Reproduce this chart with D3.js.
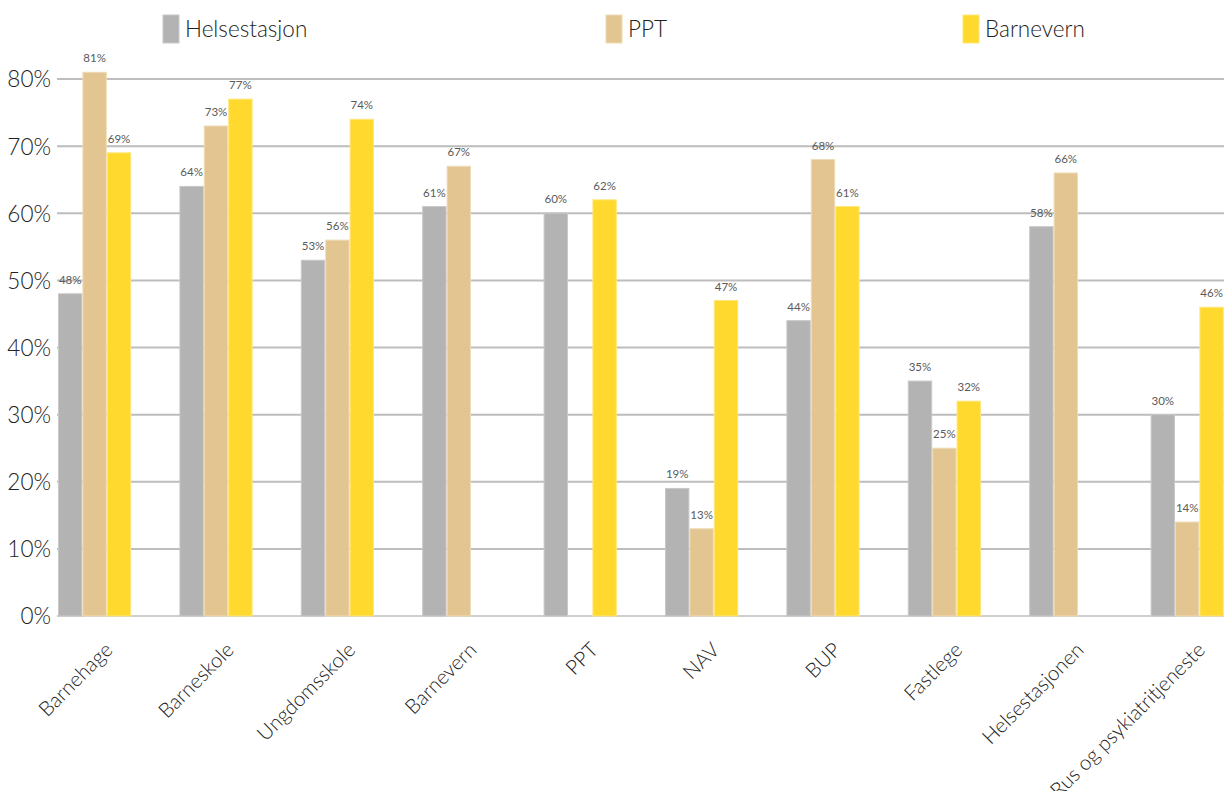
<!DOCTYPE html>
<html><head><meta charset="utf-8">
<script src="https://cdn.jsdelivr.net/npm/d3@7"></script>
<style>body{margin:0;background:#fff;} text{font-family:Lato,"Open Sans",sans-serif;}</style>
</head><body>
<svg id="c" width="1224" height="791"></svg>
<script>
const categories = ["Barnehage","Barneskole","Ungdomsskole","Barnevern","PPT","NAV","BUP","Fastlege","Helsestasjonen","Rus og psykiatritjeneste"];
const seriesNames = ["Helsestasjon","PPT","Barnevern"];
const helsestasjon = [0.48,0.64,0.53,0.61,0.60,0.19,0.44,0.35,0.58,0.30];
const ppt = [0.81,0.73,0.56,0.67,null,0.13,0.68,0.25,0.66,0.14];
const barnevern = [0.69,0.77,0.74,null,0.62,0.47,0.61,0.32,null,0.46];
const yTicks = [0,0.1,0.2,0.3,0.4,0.5,0.6,0.7,0.8];
const colors = ["#b3b3b3","#e3c592","#ffd92e"];
const strokes = ["#c8c8c8","#eedcb6","#ffe67a"];

const seriesValues = [helsestasjon, ppt, barnevern];
const svg = d3.select("#c");
const y = d3.scaleLinear().domain([0,0.8]).range([616,79]);
const x0 = d3.scaleBand().domain(categories).range([58,1223.8]).paddingInner(0.397).paddingOuter(0);
const x1 = d3.scaleBand().domain(seriesNames).range([0,x0.bandwidth()]);

// grid
svg.append("g").selectAll("line").data(yTicks).join("line")
  .attr("x1",57).attr("x2",1224).attr("y1",d=>y(d)).attr("y2",d=>y(d))
  .attr("stroke",(d)=>d===0?"#cfcfcf":"#bdbdbd").attr("stroke-width",2);

// y axis labels
const yAxis = d3.axisLeft(y).tickValues(yTicks).tickFormat(d3.format(".0%")).tickSize(0).tickPadding(4);
const ga = svg.append("g").attr("transform","translate(55,0)").call(yAxis);
ga.select(".domain").remove();
ga.selectAll("text").attr("font-size",22.5).attr("font-weight",300).attr("fill","#222").attr("font-family","Lato,sans-serif").attr("dy","0.35em");

// bars
const groups = svg.append("g").selectAll("g").data(categories).join("g")
  .attr("transform",d=>`translate(${x0(d)},0)`);
groups.each(function(cat,i){
  const g = d3.select(this);
  seriesNames.forEach((s,j)=>{
    const v = seriesValues[j][i];
    if(v==null) return;
    g.append("rect").attr("x",x1(s)+0.5).attr("width",x1.bandwidth()-1)
      .attr("y",y(v)).attr("height",y(0)-y(v))
      .attr("fill",colors[j]).attr("stroke",strokes[j]).attr("stroke-width",1);
    g.append("text").attr("x",x1(s)+x1.bandwidth()/2).attr("y",y(v)-10)
      .attr("text-anchor","middle").attr("font-size",11.5).attr("font-weight",400).attr("fill","#5a5a5a")
      .text(Math.round(v*100)+"%");
  });
});

// x labels
svg.append("g").selectAll("text").data(categories).join("text")
  .attr("transform",d=>`translate(${x0(d)+x0.bandwidth()/2+9},${641}) rotate(-45)`)
  .attr("text-anchor","end").attr("dy","0.7em").attr("font-size",20.5).attr("font-weight",300).attr("fill","#222")
  .text(d=>d);

// legend
const legX = [163,606,963];
const leg = svg.append("g").selectAll("g").data(seriesNames).join("g")
  .attr("transform",(d,i)=>`translate(${legX[i]},15)`);
leg.append("rect").attr("width",16).attr("height",28).attr("fill",(d,i)=>colors[i]).attr("stroke",(d,i)=>strokes[i]);
leg.append("text").attr("x",22).attr("y",14).attr("dy","0.35em").attr("font-size",22.5).attr("font-weight",300).attr("fill","#222").text(d=>d);
</script>
</body></html>
